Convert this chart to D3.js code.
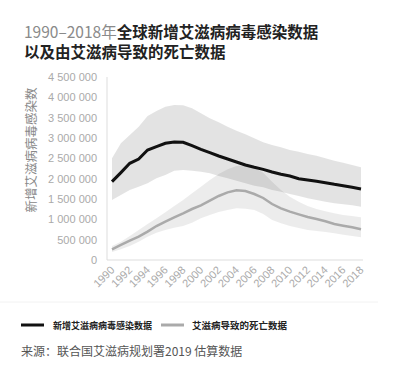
<!DOCTYPE html>
<html><head><meta charset="utf-8">
<script src="https://cdn.jsdelivr.net/npm/d3@7"></script>
<style>
html,body{margin:0;padding:0;background:#fff;}
svg{display:block;font-family:"Liberation Sans","Noto Sans CJK SC",sans-serif;}
</style></head>
<body><svg id="c" width="400" height="382"></svg>
<script>
const years = d3.range(1990, 2019);
const newInfections = [1926000,2148000,2377000,2484000,2705000,2787000,2869000,2902000,2893000,2811000,2721000,2639000,2557000,2484000,2410000,2336000,2279000,2229000,2164000,2107000,2066000,2000000,1967000,1934000,1902000,1861000,1828000,1787000,1746000];
const newInfHigh = [2500000,2869000,3074000,3279000,3541000,3664000,3770000,3811000,3803000,3729000,3607000,3484000,3385000,3279000,3180000,3090000,2992000,2893000,2828000,2770000,2705000,2664000,2607000,2566000,2500000,2443000,2393000,2336000,2279000];
const newInfLow = [1475000,1598000,1721000,1803000,1885000,2008000,2090000,2197000,2213000,2197000,2172000,2131000,2066000,2008000,1951000,1885000,1828000,1787000,1721000,1680000,1623000,1574000,1516000,1475000,1434000,1393000,1369000,1344000,1311000];
const deaths = [262000,369000,475000,574000,697000,836000,943000,1049000,1148000,1254000,1344000,1459000,1574000,1664000,1713000,1697000,1623000,1525000,1377000,1271000,1189000,1123000,1057000,1008000,951000,885000,844000,803000,754000];
const deathsHigh = [344000,451000,590000,738000,885000,1025000,1172000,1328000,1475000,1639000,1803000,1967000,2115000,2229000,2311000,2328000,2279000,2148000,1926000,1721000,1557000,1434000,1328000,1254000,1197000,1148000,1107000,1082000,1049000];
const deathsLow = [197000,262000,344000,451000,574000,672000,738000,795000,836000,918000,1025000,1107000,1180000,1230000,1271000,1262000,1230000,1131000,984000,902000,836000,787000,738000,713000,689000,656000,623000,590000,557000];
const yTicks = [0,500000,1000000,1500000,2000000,2500000,3000000,3500000,4000000,4500000];
const xTicks = d3.range(1990, 2019, 2);

const svg = d3.select("#c");
const x = d3.scaleLinear().domain([1990, 2018]).range([112, 361]);
const y = d3.scaleLinear().domain([0, 4500000]).range([260, 77]);
const loc = d3.formatLocale({decimal: ".", thousands: " ", grouping: [3], currency: ["", ""]});
const fmt = loc.format(",d");

// title
const t = svg.append("text").attr("x", 24).attr("y", 38).attr("font-size", 15.5).attr("font-weight", "bold")
  .attr("font-family", "'Noto Sans CJK SC',sans-serif");
t.append("tspan").attr("fill", "#8a8a8a").attr("font-weight", "normal").text("1990–2018年");
t.append("tspan").attr("fill", "#222").text("全球新增艾滋病病毒感染数据");
svg.append("text").attr("x", 24).attr("y", 58).attr("font-size", 15.5).attr("font-weight", "bold")
  .attr("font-family", "'Noto Sans CJK SC',sans-serif").attr("fill", "#222").text("以及由艾滋病导致的死亡数据");

// bands
const area = (hi, lo) => d3.area().x((d, i) => x(years[i])).y0((d, i) => y(lo[i])).y1((d, i) => y(hi[i]));
svg.append("path").datum(newInfHigh).attr("d", area(newInfHigh, newInfLow)).attr("fill", "#000").attr("fill-opacity", 0.11);
svg.append("path").datum(deathsHigh).attr("d", area(deathsHigh, deathsLow)).attr("fill", "#000").attr("fill-opacity", 0.075);

// axes
const yAxis = d3.axisLeft(y).tickValues(yTicks).tickFormat(fmt).tickSize(0).tickPadding(10);
const gy = svg.append("g").attr("transform", "translate(107,0)").call(yAxis);
gy.select(".domain").remove();
gy.selectAll("text").attr("fill", "#aaa").attr("font-size", 11);
svg.append("line").attr("x1", 107).attr("x2", 107).attr("y1", 77).attr("y2", 260).attr("stroke", "#ddd");
svg.append("line").attr("x1", 107).attr("x2", 363).attr("y1", 260).attr("y2", 260).attr("stroke", "#ddd");

const xAxis = d3.axisBottom(x).tickValues(xTicks).tickFormat(d3.format("d")).tickSize(0).tickPadding(0);
const gx = svg.append("g").attr("transform", "translate(0,268)").call(xAxis);
gx.select(".domain").remove();
gx.selectAll("text").attr("fill", "#aaa").attr("font-size", 11)
  .attr("text-anchor", "end").attr("dy", "0.35em").attr("dx", 0).attr("y", 0)
  .attr("transform", "rotate(-45)");

// y title
svg.append("text").attr("transform", "translate(36,150) rotate(-90)").attr("text-anchor", "middle")
  .attr("font-size", 12.5).attr("fill", "#888").attr("font-family", "'Noto Sans CJK SC',sans-serif")
  .text("新增艾滋病病毒感染数");

// lines
const line = d3.line().x((d, i) => x(years[i])).y(d => y(d));
svg.append("path").datum(deaths).attr("d", line).attr("fill", "none").attr("stroke", "#aaa").attr("stroke-width", 2.5);
svg.append("path").datum(newInfections).attr("d", line).attr("fill", "none").attr("stroke", "#111").attr("stroke-width", 3);

// separator
svg.append("line").attr("x1", 0).attr("x2", 378).attr("y1", 302).attr("y2", 302).attr("stroke", "#f2f2f2");

// legend
const lg = svg.append("g").attr("font-family", "'Noto Sans CJK SC',sans-serif");
lg.append("line").attr("x1", 21).attr("x2", 44).attr("y1", 325).attr("y2", 325).attr("stroke", "#111").attr("stroke-width", 3);
lg.append("text").attr("x", 53).attr("y", 328.5).attr("font-size", 9).attr("font-weight", "bold").attr("fill", "#222").text("新增艾滋病病毒感染数据");
lg.append("line").attr("x1", 161).attr("x2", 184).attr("y1", 325).attr("y2", 325).attr("stroke", "#aaa").attr("stroke-width", 3);
lg.append("text").attr("x", 192).attr("y", 328.5).attr("font-size", 9.5).attr("font-weight", "bold").attr("fill", "#222").text("艾滋病导致的死亡数据");

// source
svg.append("text").attr("x", 21).attr("y", 356).attr("font-size", 12).attr("fill", "#555")
  .attr("font-family", "'Noto Sans CJK SC',sans-serif").text("来源：联合国艾滋病规划署2019 估算数据");
</script></body></html>
